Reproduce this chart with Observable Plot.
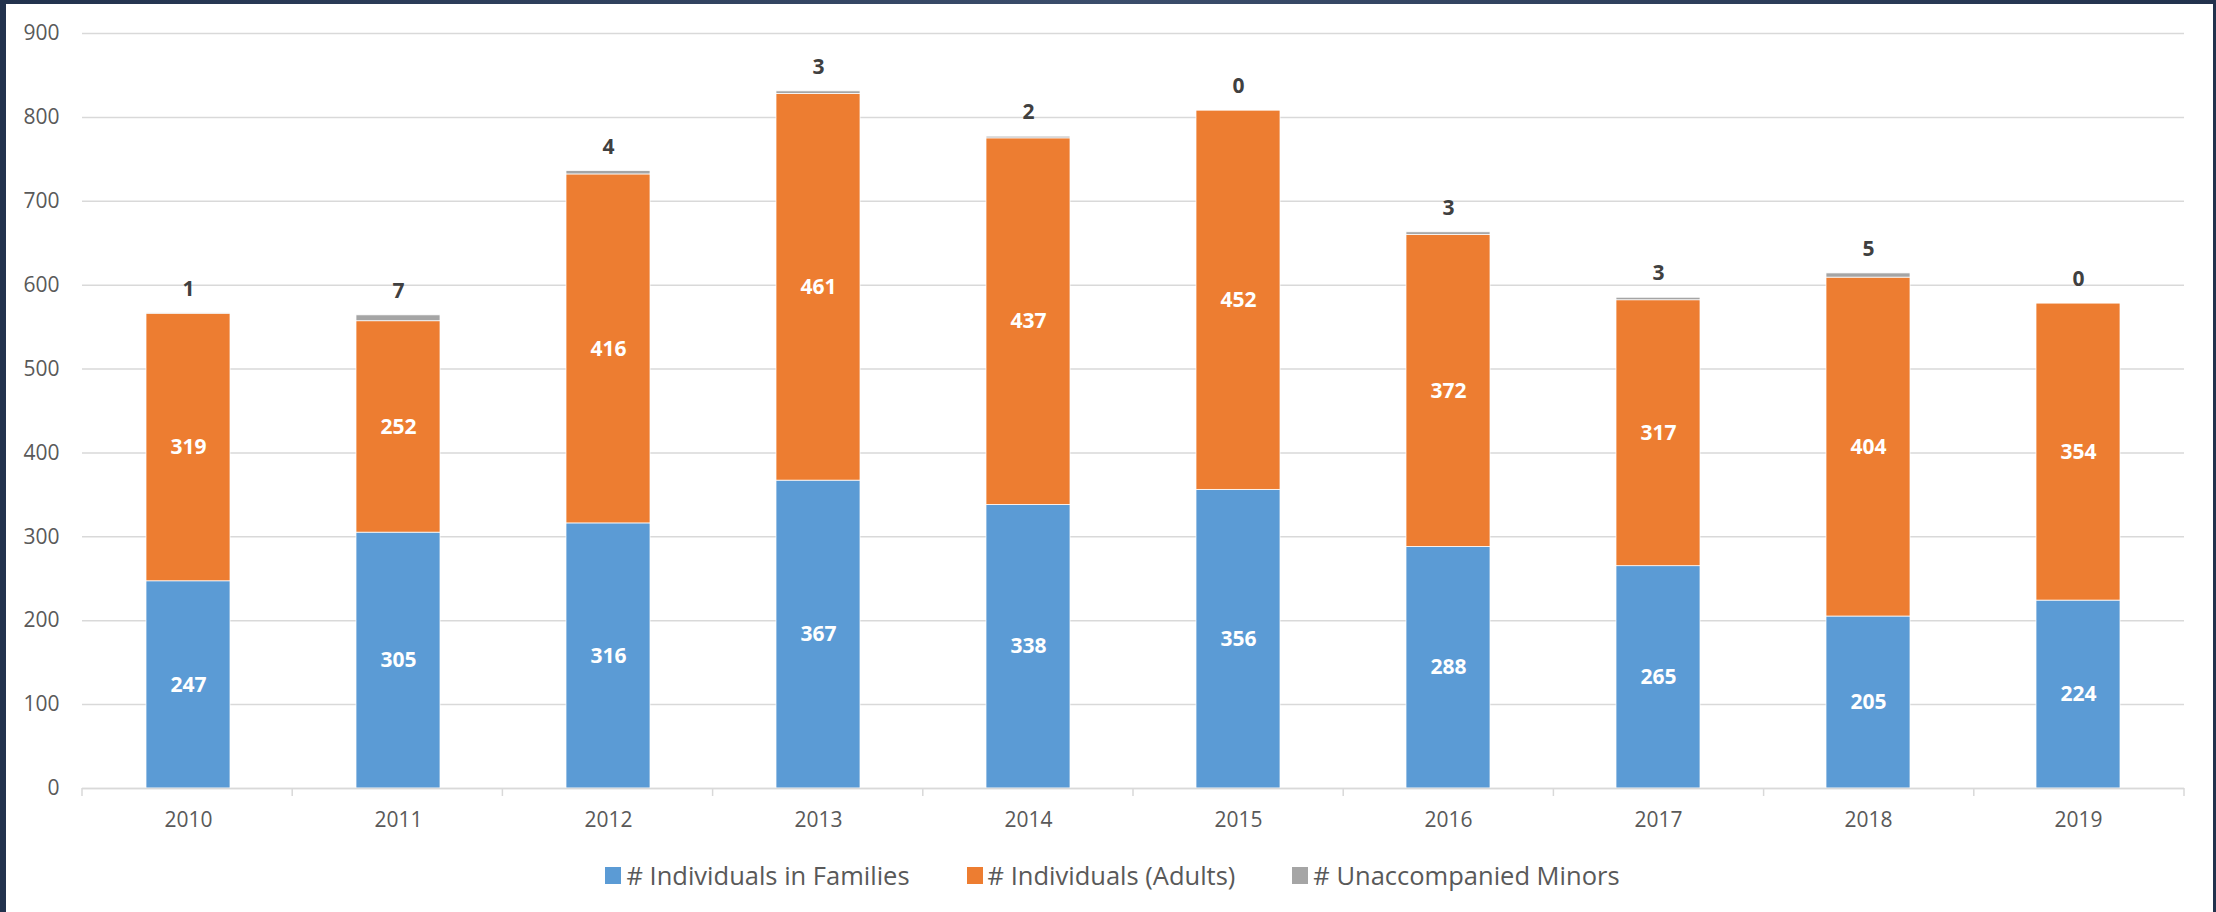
<!DOCTYPE html>
<html><head><meta charset="utf-8">
<script src="https://cdn.jsdelivr.net/npm/d3@7"></script>
<script src="https://cdn.jsdelivr.net/npm/@observablehq/plot@0.6"></script>
<style>
html,body{margin:0;padding:0;}
body{width:2216px;height:912px;background:linear-gradient(90deg,#22324d,#3b4d6b 50%,#22324d);overflow:hidden;position:relative;}
#panel{position:absolute;left:6px;top:4px;width:2207px;height:908px;background:#fff;}
#legend{display:flex;justify-content:center;align-items:center;gap:57px;font-family:"Open Sans";font-size:25.5px;color:#595959;height:42px;padding-left:6px;}
.item{display:flex;align-items:center;gap:5px}
.sw{width:16px;height:17px}
</style></head><body><div id="panel"><div id="chart"></div><div id="legend"></div></div>
<script>
const years = ["2010","2011","2012","2013","2014","2015","2016","2017","2018","2019"];
const families = [247,305,316,367,338,356,288,265,205,224];
const adults = [319,252,416,461,437,452,372,317,404,354];
const minors = [1,7,4,3,2,0,3,3,5,0];
const seriesNames = ["# Individuals in Families","# Individuals (Adults)","# Unaccompanied Minors"];
const seriesColors = ["#5B9BD5","#ED7D31","#A5A5A5"];
const yTicks = [0,100,200,300,400,500,600,700,800,900];

const rows = [];
years.forEach((y,i)=>{
  rows.push({year:y, series:seriesNames[0], value:families[i]});
  rows.push({year:y, series:seriesNames[1], value:adults[i]});
  rows.push({year:y, series:seriesNames[2], value:minors[i]});
});
const perYear = years.map((y,i)=>({year:y, f:families[i], a:adults[i], m:minors[i]}));

const boundaryTicks = (index, scales, values, dims) => {
  const g = d3.create("svg:g");
  const n = years.length;
  const step = (dims.width - dims.marginLeft - dims.marginRight) / n;
  const y0 = scales.y(0);
  for (let i = 0; i <= n; i++) {
    const x = dims.marginLeft + i * step;
    g.append("line").attr("x1", x).attr("x2", x).attr("y1", y0).attr("y2", y0 + 8)
      .attr("stroke", "#D9D9D9").attr("stroke-width", 1.5);
  }
  return g.node();
};

const chart = Plot.plot({
  width: 2207, height: 850,
  marginLeft: 76, marginRight: 29, marginTop: 29, marginBottom: 66,
  style: {fontFamily: "Open Sans", fontSize: "21px", color: "#595959", background: "white", overflow: "visible"},
  x: {domain: years, paddingInner: 0.6, paddingOuter: 0.3, label: null},
  y: {domain: [0, 900], label: null},
  color: {domain: seriesNames, range: seriesColors},
  marks: [
    Plot.gridY(yTicks, {stroke: "#D9D9D9", strokeOpacity: 1, strokeWidth: 1.5}),
    Plot.axisY(yTicks, {tickSize: 0, tickPadding: 23, label: null}),
    Plot.axisX({tickSize: 0, tickPadding: 24, label: null}),
    Plot.barY(rows, {x: "year", y: "value", fill: "series", stroke: "white", strokeWidth: 0.75}),
    Plot.ruleY([0], {stroke: "#D9D9D9", strokeWidth: 1.5}),
    boundaryTicks,
    Plot.text(perYear, {x: "year", y: d => d.f / 2, text: d => String(d.f), fill: "white", fontWeight: "bold", fontSize: 21}),
    Plot.text(perYear, {x: "year", y: d => d.f + d.a / 2, text: d => String(d.a), fill: "white", fontWeight: "bold", fontSize: 21}),
    Plot.text(perYear, {x: "year", y: d => d.f + d.a + d.m, dy: -24, text: d => String(d.m), fill: "#404040", fontWeight: "bold", fontSize: 21})
  ]
});
document.getElementById("chart").appendChild(chart);

const legend = document.getElementById("legend");
seriesNames.forEach((name, i) => {
  const item = document.createElement("div");
  item.className = "item";
  const sw = document.createElement("div");
  sw.className = "sw";
  sw.style.background = seriesColors[i];
  const label = document.createElement("span");
  label.textContent = name;
  item.appendChild(sw); item.appendChild(label);
  legend.appendChild(item);
});
</script></body></html>
